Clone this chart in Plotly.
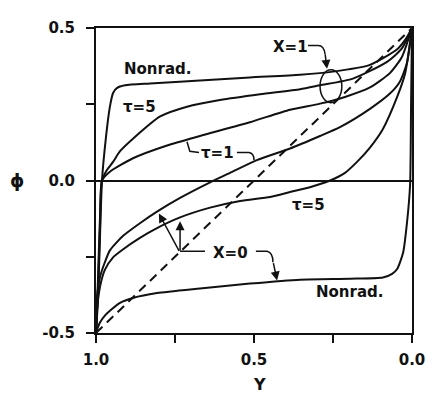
import plotly.graph_objects as go

# ---- data (Y, phi) ----
# X = 1 family (upper)
y_nonrad_x1 = [1.0, 0.994, 0.987, 0.981, 0.968, 0.956, 0.946, 0.934, 0.908, 0.829, 0.671, 0.513, 0.354, 0.250, 0.133, 0.047, 0.019, 0.0]
phi_nonrad_x1 = [-0.5, -0.395, -0.172, 0.0, 0.146, 0.242, 0.287, 0.303, 0.312, 0.318, 0.328, 0.338, 0.347, 0.357, 0.379, 0.430, 0.465, 0.5]

y_tau5_x1 = [1.0, 0.994, 0.987, 0.981, 0.965, 0.946, 0.924, 0.883, 0.797, 0.712, 0.608, 0.481, 0.354, 0.291, 0.187, 0.079, 0.032, 0.0]
phi_tau5_x1 = [-0.5, -0.331, -0.108, 0.0, 0.035, 0.061, 0.096, 0.137, 0.210, 0.242, 0.264, 0.283, 0.299, 0.312, 0.334, 0.389, 0.433, 0.5]

y_tau1_x1 = [1.0, 0.994, 0.987, 0.981, 0.956, 0.883, 0.775, 0.671, 0.513, 0.386, 0.291, 0.212, 0.133, 0.070, 0.032, 0.0]
phi_tau1_x1 = [-0.5, -0.363, -0.140, 0.0, 0.029, 0.073, 0.115, 0.146, 0.191, 0.232, 0.252, 0.274, 0.305, 0.352, 0.405, 0.5]

# X = 0 family (lower)
y_tau1_x0 = [1.0, 0.997, 0.987, 0.972, 0.956, 0.915, 0.861, 0.807, 0.734, 0.639, 0.576, 0.491, 0.386, 0.291, 0.228, 0.133, 0.070, 0.038, 0.016, 0.0]
phi_tau1_x0 = [-0.5, -0.385, -0.315, -0.268, -0.229, -0.182, -0.140, -0.102, -0.057, -0.006, 0.025, 0.067, 0.105, 0.146, 0.175, 0.235, 0.285, 0.325, 0.385, 0.5]

y_tau5_x0 = [1.0, 0.997, 0.987, 0.972, 0.946, 0.915, 0.861, 0.807, 0.734, 0.639, 0.544, 0.449, 0.386, 0.323, 0.259, 0.212, 0.174, 0.133, 0.092, 0.047, 0.022, 0.0]
phi_tau5_x0 = [-0.5, -0.427, -0.347, -0.293, -0.252, -0.226, -0.188, -0.156, -0.121, -0.089, -0.067, -0.054, -0.038, -0.022, 0.0, 0.025, 0.061, 0.108, 0.169, 0.274, 0.350, 0.5]

y_nonrad_x0 = [1.0, 0.997, 0.987, 0.972, 0.956, 0.924, 0.883, 0.807, 0.671, 0.513, 0.354, 0.196, 0.092, 0.063, 0.047, 0.028, 0.016, 0.006, 0.003, 0.0]
phi_nonrad_x0 = [-0.5, -0.490, -0.465, -0.443, -0.427, -0.401, -0.385, -0.369, -0.354, -0.338, -0.325, -0.322, -0.318, -0.306, -0.290, -0.236, -0.140, -0.013, 0.242, 0.5]

# dashed reference line
y_diag = [1.0, 0.0]
phi_diag = [-0.5, 0.5]

x_tickvals = [1.0, 0.75, 0.5, 0.25, 0.0]
x_ticktext = ["1.0", "", "0.5", "", "0.0"]
y_tickvals = [-0.5, -0.25, 0.0, 0.25, 0.5]
y_ticktext = ["-0.5", "", "0.0", "", "0.5"]

FONT = "DejaVu Sans"
BLACK = "#111111"

fig = go.Figure()
curves = [
    (y_nonrad_x1, phi_nonrad_x1),
    (y_tau5_x1, phi_tau5_x1),
    (y_tau1_x1, phi_tau1_x1),
    (y_tau1_x0, phi_tau1_x0),
    (y_tau5_x0, phi_tau5_x0),
    (y_nonrad_x0, phi_nonrad_x0),
]
for xs, ys in curves:
    fig.add_trace(go.Scatter(x=xs, y=ys, mode="lines",
                             line=dict(color=BLACK, width=2, shape="spline", smoothing=0.6),
                             showlegend=False, hoverinfo="skip"))
fig.add_trace(go.Scatter(x=y_diag, y=phi_diag, mode="lines",
                         line=dict(color=BLACK, width=2, dash="9px,6px"),
                         showlegend=False, hoverinfo="skip"))

tfont = dict(family=FONT, size=15, color=BLACK, weight="bold")
labels = [
    ("Nonrad.", 0.804, 0.366),
    ("τ=5", 0.861, 0.242),
    ("τ=1", 0.614, 0.089),
    ("X=1", 0.386, 0.439),
    ("X=0", 0.573, -0.239),
    ("τ=5", 0.329, -0.080),
    ("Nonrad.", 0.196, -0.366),
]
for txt, x, y in labels:
    fig.add_annotation(x=x, y=y, text=txt, showarrow=False, font=tfont,
                       xanchor="center", yanchor="middle")

# arrows
arrow_kw = dict(showarrow=True, arrowhead=2, arrowsize=1.2, arrowwidth=1.5,
                arrowcolor=BLACK, text="", axref="pixel", ayref="pixel")
fig.add_annotation(x=0.269, y=0.366, ax=-2, ay=-16, **arrow_kw)    # X=1
fig.add_annotation(x=0.734, y=-0.134, ax=0, ay=31, **arrow_kw)     # X=0 -> tau5
fig.add_annotation(x=0.801, y=-0.108, ax=21, ay=39, **arrow_kw)    # X=0 -> tau1
fig.add_annotation(x=0.427, y=-0.328, ax=-4, ay=-19, **arrow_kw)   # X=0 -> nonrad

line_kw = dict(type="path", xref="x", yref="y", line=dict(color=BLACK, width=1.5))
fig.add_shape(path="M 0.712,0.127 L 0.703,0.096 L 0.674,0.092", **line_kw)
fig.add_shape(path="M 0.554,0.092 L 0.516,0.092 Q 0.500,0.090 0.500,0.067", **line_kw)
fig.add_shape(path="M 0.329,0.443 L 0.297,0.443 Q 0.278,0.443 0.275,0.414", **line_kw)
fig.add_shape(path="M 0.734,-0.232 L 0.655,-0.232", **line_kw)
fig.add_shape(path="M 0.494,-0.232 L 0.459,-0.232 Q 0.440,-0.236 0.440,-0.268", **line_kw)
fig.add_shape(type="circle", xref="x", yref="y", x0=0.291, x1=0.222, y0=0.255, y1=0.363,
              line=dict(color=BLACK, width=1.5))

# axis titles
fig.add_annotation(xref="paper", yref="paper", x=-0.25, y=0.5, text="ϕ", showarrow=False,
                   xanchor="center", yanchor="middle",
                   font=dict(family=FONT, size=18, color=BLACK, weight="bold"))
fig.add_annotation(xref="paper", yref="paper", x=0.516, y=-0.169, text="Y", showarrow=False,
                   xanchor="center", yanchor="middle",
                   font=dict(family=FONT, size=16, color=BLACK, weight="bold"))

axis_common = dict(showgrid=False, showline=True, linecolor=BLACK, linewidth=2, mirror=True,
                   ticks="outside", ticklen=8, tickwidth=1.5, tickcolor=BLACK,
                   tickfont=dict(family=FONT, size=15, color=BLACK, weight="bold"))
fig.update_xaxes(range=[1.0, 0.0], tickvals=x_tickvals, ticktext=x_ticktext,
                 zeroline=False, ticklabelstandoff=4, **axis_common)
fig.update_yaxes(range=[-0.5, 0.5], tickvals=y_tickvals, ticktext=y_ticktext,
                 zeroline=True, zerolinecolor=BLACK, zerolinewidth=1.5,
                 ticklabelstandoff=8, **axis_common)

fig.update_layout(width=429, height=385, margin=dict(l=88, r=25, t=11, b=60),
                  plot_bgcolor="white", paper_bgcolor="white", showlegend=False)

fig.write_html("out.html")
